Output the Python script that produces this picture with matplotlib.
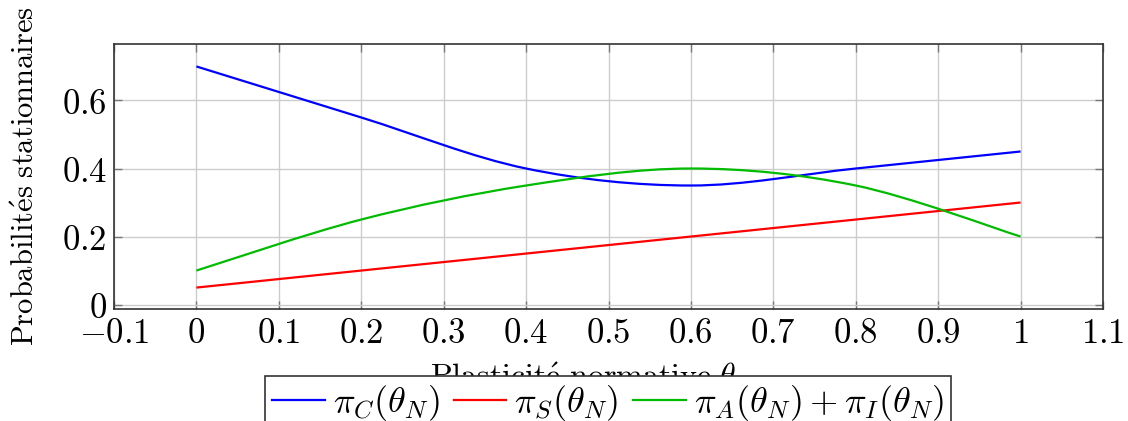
import matplotlib
matplotlib.use("Agg")
import matplotlib.pyplot as plt
from matplotlib.path import Path
from matplotlib.patches import PathPatch
from matplotlib.lines import Line2D
import numpy as np

plt.rcParams['mathtext.fontset'] = 'cm'
plt.rcParams['font.family'] = ['DejaVu Serif']

theta = [0.0, 0.2, 0.4, 0.6, 0.8, 1.0]
pi_C = [0.70, 0.55, 0.40, 0.35, 0.40, 0.45]
pi_S = [0.05, 0.10, 0.15, 0.20, 0.25, 0.30]
pi_AI = [0.10, 0.25, 0.35, 0.40, 0.35, 0.20]

x_ticks = [-0.1, 0, 0.1, 0.2, 0.3, 0.4, 0.5, 0.6, 0.7, 0.8, 0.9, 1.0, 1.1]
x_ticklabels = [r'$-0.1$', r'$0$', r'$0.1$', r'$0.2$', r'$0.3$', r'$0.4$', r'$0.5$',
                r'$0.6$', r'$0.7$', r'$0.8$', r'$0.9$', r'$1$', r'$1.1$']
y_ticks = [0, 0.2, 0.4, 0.6]
y_ticklabels = [r'$0$', r'$0.2$', r'$0.4$', r'$0.6$']

labels = [r'$\pi_C(\theta_N)$', r'$\pi_S(\theta_N)$', r'$\pi_A(\theta_N)+\pi_I(\theta_N)$']
colors = ['#0000ff', '#ff0000', '#00bb00']

fig = plt.figure(figsize=(11.28, 4.21), dpi=100)
ax = fig.add_axes([114/1128, 1-309/421, (1103-114)/1128, (309-44)/421])


def smooth_path(xs, ys, tension=0.55):
    # pgfplots-like "smooth" bezier path built from the data points
    xs = np.asarray(xs, float); ys = np.asarray(ys, float)
    n = len(xs)
    verts = [(xs[0], ys[0])]
    codes = [Path.MOVETO]
    for i in range(n - 1):
        p0 = np.array([xs[max(i-1, 0)], ys[max(i-1, 0)]])
        p1 = np.array([xs[i], ys[i]])
        p2 = np.array([xs[i+1], ys[i+1]])
        p3 = np.array([xs[min(i+2, n-1)], ys[min(i+2, n-1)]])
        c1 = p1 + (p2 - p0) * tension / 3.0 * 0.9
        c2 = p2 - (p3 - p1) * tension / 3.0 * 0.9
        verts += [tuple(c1), tuple(c2), tuple(p2)]
        codes += [Path.CURVE4] * 3
    return Path(verts, codes)


for ys, c in zip([pi_C, pi_S, pi_AI], colors):
    patch = PathPatch(smooth_path(theta, ys), facecolor='none', edgecolor=c, lw=1.6,
                      zorder=3, capstyle='butt')
    ax.add_patch(patch)

ax.set_xlim(-0.1, 1.1)
ax.set_ylim(-0.013, 0.766)
ax.set_xticks(x_ticks)
ax.set_xticklabels(x_ticklabels, fontsize=25)
ax.set_yticks(y_ticks)
ax.set_yticklabels(y_ticklabels, fontsize=25)
ax.grid(True, color='#cccccc', lw=1.0, zorder=0)
ax.tick_params(direction='in', length=6, width=1.0, color='#777777',
               top=True, right=True)
ax.tick_params(axis='y', pad=5)
ax.tick_params(axis='x', pad=5)
for s in ax.spines.values():
    s.set_linewidth(1.2)
    s.set_color('#333333')

ax.set_ylabel(r'$\mathrm{Probabilit\acute{e}s\ stationnaires}$', fontsize=22)
ax.yaxis.set_label_coords(-0.074, 0.5)
ax.set_xlabel(r'$\mathrm{Plasticit\acute{e}\ normative\ }\theta_N$', fontsize=23)
ax.xaxis.set_label_coords(0.485, -0.195)

handles = [Line2D([0], [0], color=c, lw=1.6) for c in colors]
leg = fig.legend(handles, labels, loc='upper center', bbox_to_anchor=(608/1128, 1-376/421),
                 ncol=3, fontsize=26, frameon=True, fancybox=False, edgecolor='#333333',
                 handlelength=1.45, handletextpad=0.22, columnspacing=0.4,
                 borderpad=0.2, borderaxespad=0.0, framealpha=1.0)
leg.get_frame().set_linewidth(1.2)
leg.set_zorder(10)

fig.savefig('out.png', dpi=100)
